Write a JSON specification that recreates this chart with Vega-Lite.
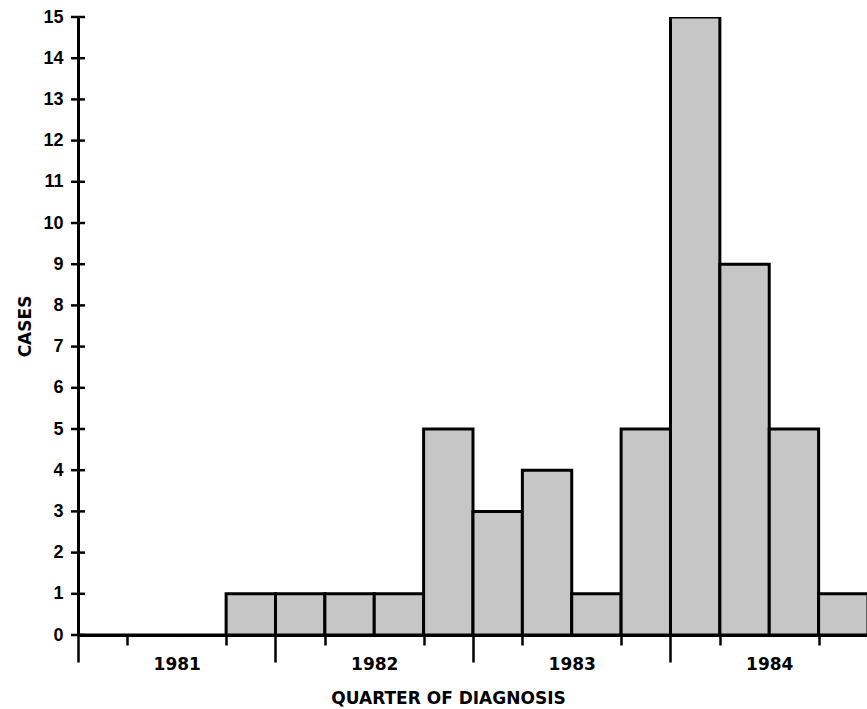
{
  "$schema": "https://vega.github.io/schema/vega-lite/v6.json",
  "width": 789,
  "height": 618,
  "autosize": {"type": "none"},
  "padding": {"left": 78, "top": 17, "right": 0, "bottom": 74},
  "background": "white",
  "config": {
    "view": {"stroke": null},
    "font": "Liberation Sans",
    "axis": {"grid": false, "domainColor": "black", "tickColor": "black", "labelColor": "black", "titleColor": "black"}
  },
  "datasets": {
    "cases": [
      {"quarter": "1981 Q1", "start": 1981.0, "end": 1981.25, "cases": 0},
      {"quarter": "1981 Q2", "start": 1981.25, "end": 1981.5, "cases": 0},
      {"quarter": "1981 Q3", "start": 1981.5, "end": 1981.75, "cases": 0},
      {"quarter": "1981 Q4", "start": 1981.75, "end": 1982.0, "cases": 1},
      {"quarter": "1982 Q1", "start": 1982.0, "end": 1982.25, "cases": 1},
      {"quarter": "1982 Q2", "start": 1982.25, "end": 1982.5, "cases": 1},
      {"quarter": "1982 Q3", "start": 1982.5, "end": 1982.75, "cases": 1},
      {"quarter": "1982 Q4", "start": 1982.75, "end": 1983.0, "cases": 5},
      {"quarter": "1983 Q1", "start": 1983.0, "end": 1983.25, "cases": 3},
      {"quarter": "1983 Q2", "start": 1983.25, "end": 1983.5, "cases": 4},
      {"quarter": "1983 Q3", "start": 1983.5, "end": 1983.75, "cases": 1},
      {"quarter": "1983 Q4", "start": 1983.75, "end": 1984.0, "cases": 5},
      {"quarter": "1984 Q1", "start": 1984.0, "end": 1984.25, "cases": 15},
      {"quarter": "1984 Q2", "start": 1984.25, "end": 1984.5, "cases": 9},
      {"quarter": "1984 Q3", "start": 1984.5, "end": 1984.75, "cases": 5},
      {"quarter": "1984 Q4", "start": 1984.75, "end": 1985.0, "cases": 1}
    ],
    "yticks": [
      {"v": 0}, {"v": 1}, {"v": 2}, {"v": 3}, {"v": 4}, {"v": 5}, {"v": 6}, {"v": 7},
      {"v": 8}, {"v": 9}, {"v": 10}, {"v": 11}, {"v": 12}, {"v": 13}, {"v": 14}, {"v": 15}
    ]
  },
  "layer": [
    {
      "data": {"name": "cases"},
      "mark": {"type": "bar", "fill": "#c6c6c6", "stroke": "black", "strokeWidth": 3, "clip": true},
      "encoding": {
        "x": {
          "field": "start",
          "type": "quantitative",
          "scale": {"domain": [1981, 1984.995], "nice": false, "zero": false},
          "axis": {
            "values": [1981, 1981.25, 1981.5, 1981.75, 1982, 1982.25, 1982.5, 1982.75, 1983, 1983.25, 1983.5, 1983.75, 1984, 1984.25, 1984.5, 1984.75],
            "domainWidth": 3,
            "tickWidth": 2.5,
            "tickSize": {"condition": {"test": "datum.value % 1 == 0", "value": 27}, "value": 10},
            "tickOpacity": {"condition": {"test": "datum.value % 1 == 0.5", "value": 0}, "value": 1},
            "labelExpr": "datum.value % 1 == 0.5 ? '' + floor(datum.value) : ''",
            "labelFont": "DejaVu Sans",
            "labelFontSize": 17,
            "labelFontWeight": "bold",
            "labelBaseline": "alphabetic",
            "labelPadding": 24,
            "labelFlush": false,
            "labelOverlap": false,
            "title": "QUARTER OF DIAGNOSIS",
            "titleFont": "DejaVu Sans",
            "titleFontSize": 17,
            "titleFontWeight": "bold",
            "titleX": 370,
            "titleY": 68,
            "titleBaseline": "alphabetic",
            "titleAlign": "center"
          }
        },
        "x2": {"field": "end"},
        "y": {
          "field": "cases",
          "type": "quantitative",
          "scale": {"domain": [0, 15], "nice": false},
          "axis": {
            "values": [0, 1, 2, 3, 4, 5, 6, 7, 8, 9, 10, 11, 12, 13, 14, 15],
            "domainWidth": 3,
            "ticks": false,
            "labelPadding": 15,
            "labelFontSize": 18,
            "labelFontWeight": "bold",
            "labelBaseline": "middle",
            "title": "CASES",
            "titleFont": "DejaVu Sans",
            "titleFontSize": 17,
            "titleFontWeight": "bold",
            "titleAngle": -90,
            "titleX": -48,
            "titleY": 309,
            "titleAlign": "center",
            "titleBaseline": "alphabetic"
          }
        },
        "y2": {"datum": 0}
      }
    },
    {
      "data": {"name": "yticks"},
      "mark": {"type": "tick", "orient": "horizontal", "size": 14, "thickness": 2.5, "color": "black", "opacity": 1},
      "encoding": {
        "x": {"datum": 1981, "type": "quantitative", "axis": {"title": "QUARTER OF DIAGNOSIS"}},
        "y": {"field": "v", "type": "quantitative", "axis": {"title": "CASES"}}
      }
    }
  ]
}
